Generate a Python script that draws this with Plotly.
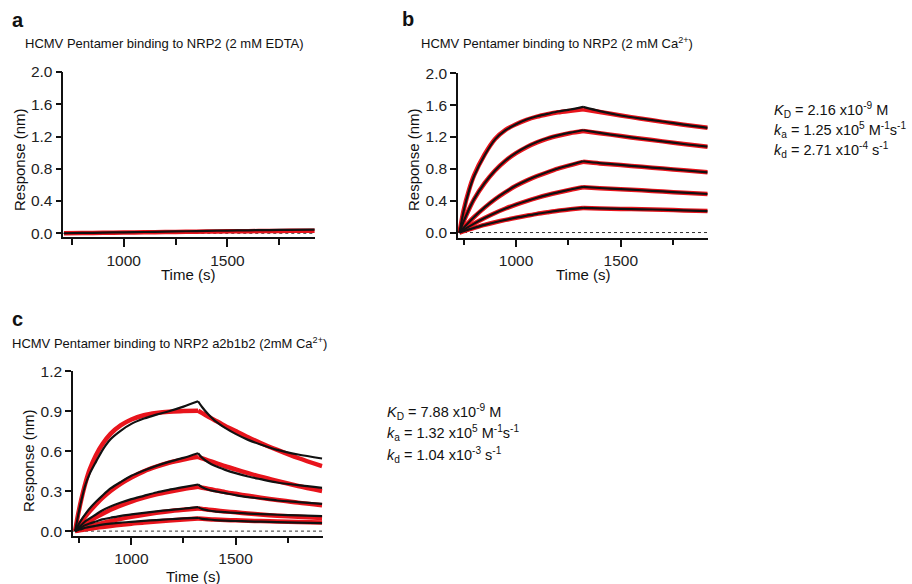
import plotly.graph_objects as go

# ---------------- data ----------------
# Panel a (2 mM EDTA)
a_time = [712, 800, 900, 1000, 1100, 1200, 1300, 1400, 1500, 1600, 1700, 1800, 1920]
a_data = [0.0, 0.004, 0.008, 0.012, 0.016, 0.020, 0.025, 0.030, 0.034, 0.037, 0.040, 0.042, 0.045]
a_fit = [0.0, 0.003, 0.006, 0.009, 0.012, 0.015, 0.018, 0.021, 0.024, 0.026, 0.028, 0.030, 0.032]

# Panel b (2 mM Ca2+)
b_time = [730, 750, 775, 800, 850, 900, 950, 1000, 1050, 1100, 1150, 1200, 1260, 1320,
          1400, 1500, 1600, 1700, 1800, 1915]
b_peak_index = 13
b_data = [
    [0, 0.27, 0.52, 0.71, 0.97, 1.17, 1.285, 1.36, 1.42, 1.46, 1.49, 1.52, 1.545, 1.578,
     1.525, 1.47, 1.43, 1.395, 1.355, 1.315],
    [0, 0.14, 0.29, 0.42, 0.62, 0.78, 0.905, 1.0, 1.077, 1.138, 1.185, 1.221, 1.255, 1.285,
     1.251, 1.212, 1.178, 1.146, 1.112, 1.078],
    [0, 0.06, 0.13, 0.195, 0.315, 0.42, 0.51, 0.59, 0.655, 0.71, 0.76, 0.805, 0.85, 0.895,
     0.871, 0.849, 0.827, 0.805, 0.782, 0.756],
    [0, 0.034, 0.074, 0.112, 0.182, 0.245, 0.301, 0.351, 0.396, 0.437, 0.473, 0.505, 0.540, 0.573,
     0.559, 0.545, 0.531, 0.516, 0.500, 0.484],
    [0, 0.017, 0.039, 0.058, 0.096, 0.129, 0.159, 0.187, 0.211, 0.235, 0.255, 0.274, 0.293, 0.31,
     0.304, 0.298, 0.292, 0.286, 0.279, 0.27],
]
b_fit = [
    [0, 0.28, 0.53, 0.72, 0.98, 1.175, 1.29, 1.36, 1.415, 1.455, 1.485, 1.51, 1.53, 1.548,
     1.515, 1.47, 1.43, 1.39, 1.355, 1.315],
    [0, 0.14, 0.29, 0.42, 0.62, 0.78, 0.903, 0.997, 1.072, 1.132, 1.18, 1.215, 1.25, 1.275,
     1.248, 1.212, 1.178, 1.145, 1.111, 1.076],
    [0, 0.06, 0.13, 0.195, 0.313, 0.418, 0.508, 0.587, 0.652, 0.708, 0.757, 0.802, 0.847, 0.888,
     0.868, 0.847, 0.825, 0.803, 0.781, 0.756],
    [0, 0.035, 0.075, 0.113, 0.183, 0.246, 0.302, 0.351, 0.395, 0.435, 0.471, 0.503, 0.538, 0.569,
     0.557, 0.543, 0.530, 0.515, 0.499, 0.484],
    [0, 0.017, 0.039, 0.058, 0.096, 0.129, 0.159, 0.186, 0.21, 0.234, 0.254, 0.273, 0.291, 0.308,
     0.303, 0.297, 0.291, 0.285, 0.278, 0.27],
]

# Panel c (NRP2 a2b1b2, 2 mM Ca2+)
c_time = [730, 745, 760, 780, 800, 830, 860, 900, 950, 1000, 1060, 1120, 1180, 1250, 1320,
          1340, 1370, 1400, 1450, 1500, 1560, 1620, 1700, 1800, 1915]
c_peak_index = 14
c_data = [
    [0, 0.12, 0.23, 0.35, 0.43, 0.52, 0.605, 0.69, 0.755, 0.805, 0.845, 0.875, 0.90, 0.935, 0.975,
     0.93, 0.875, 0.83, 0.775, 0.73, 0.685, 0.65, 0.61, 0.575, 0.545],
    [0, 0.045, 0.085, 0.13, 0.17, 0.22, 0.265, 0.32, 0.37, 0.415, 0.455, 0.49, 0.52, 0.55, 0.585,
     0.55, 0.515, 0.49, 0.46, 0.435, 0.41, 0.39, 0.365, 0.345, 0.325],
    [0, 0.025, 0.045, 0.075, 0.095, 0.125, 0.155, 0.185, 0.215, 0.24, 0.265, 0.29, 0.31, 0.33, 0.35,
     0.33, 0.31, 0.30, 0.285, 0.27, 0.255, 0.245, 0.23, 0.218, 0.205],
    [0, 0.015, 0.028, 0.045, 0.057, 0.072, 0.088, 0.10, 0.115, 0.125, 0.137, 0.148, 0.158, 0.168, 0.18,
     0.165, 0.155, 0.148, 0.142, 0.137, 0.132, 0.128, 0.123, 0.118, 0.113],
    [0, 0.008, 0.015, 0.025, 0.032, 0.04, 0.048, 0.056, 0.064, 0.07, 0.077, 0.083, 0.089, 0.095, 0.10,
     0.092, 0.087, 0.083, 0.079, 0.076, 0.073, 0.071, 0.068, 0.064, 0.06],
]
c_fit = [
    [0, 0.128, 0.239, 0.363, 0.462, 0.57, 0.65, 0.73, 0.795, 0.838, 0.870, 0.887, 0.897, 0.901, 0.904,
     0.886, 0.859, 0.833, 0.790, 0.751, 0.705, 0.662, 0.610, 0.549, 0.488],
    [0, 0.035, 0.068, 0.110, 0.148, 0.200, 0.247, 0.301, 0.357, 0.403, 0.449, 0.484, 0.513, 0.538, 0.558,
     0.546, 0.530, 0.514, 0.487, 0.463, 0.435, 0.408, 0.376, 0.339, 0.301],
    [0, 0.018, 0.034, 0.056, 0.076, 0.104, 0.129, 0.160, 0.193, 0.222, 0.251, 0.276, 0.296, 0.316, 0.332,
     0.326, 0.317, 0.308, 0.293, 0.280, 0.265, 0.251, 0.234, 0.214, 0.195],
    [0, 0.008, 0.016, 0.025, 0.035, 0.048, 0.060, 0.075, 0.092, 0.107, 0.123, 0.137, 0.149, 0.160, 0.170,
     0.167, 0.161, 0.156, 0.148, 0.141, 0.132, 0.124, 0.116, 0.107, 0.098],
    [0, 0.004, 0.008, 0.013, 0.018, 0.025, 0.031, 0.039, 0.048, 0.056, 0.065, 0.072, 0.079, 0.087, 0.094,
     0.092, 0.089, 0.087, 0.084, 0.081, 0.078, 0.075, 0.072, 0.068, 0.065],
]

panel_titles = [
    "HCMV Pentamer binding to NRP2 (2 mM EDTA)",
    "HCMV Pentamer binding to NRP2 (2 mM Ca<sup>2+</sup>)",
    "HCMV Pentamer binding to NRP2 a2b1b2 (2mM Ca<sup>2+</sup>)",
]
panel_letters = ["a", "b", "c"]
b_constants = [
    "<i>K</i><sub>D</sub> = 2.16 x10<sup>-9</sup> M",
    "<i>k</i><sub>a</sub> = 1.25 x10<sup>5</sup> M<sup>-1</sup>s<sup>-1</sup>",
    "<i>k</i><sub>d</sub> = 2.71 x10<sup>-4</sup> s<sup>-1</sup>",
]
c_constants = [
    "<i>K</i><sub>D</sub> = 7.88 x10<sup>-9</sup> M",
    "<i>k</i><sub>a</sub> = 1.32 x10<sup>5</sup> M<sup>-1</sup>s<sup>-1</sup>",
    "<i>k</i><sub>d</sub> = 1.04 x10<sup>-3</sup> s<sup>-1</sup>",
]
ab_yticks = [0.0, 0.4, 0.8, 1.2, 1.6, 2.0]
c_yticks = [0.0, 0.3, 0.6, 0.9, 1.2]
x_major = [1000, 1500]
x_minor = [750, 1250, 1750]

# ---------------- figure ----------------
W, H = 912, 584
FONT = "Arial, Liberation Sans, Helvetica, sans-serif"
RED = "rgb(232,20,28)"
BLACK = "#111111"

fig = go.Figure()


def add_curve(t, v, k, xa, ya, color, width):
    segs = [(t, v)] if k is None else [(t[:k + 1], v[:k + 1]), (t[k:], v[k:])]
    for xs, ys in segs:
        fig.add_trace(go.Scatter(x=xs, y=ys, mode="lines", xaxis=xa, yaxis=ya,
                                 line=dict(color=color, width=width, shape="spline", smoothing=0.8),
                                 showlegend=False, hoverinfo="skip"))


# panel a
add_curve(a_time, a_fit, None, "x", "y", RED, 4.5)
add_curve(a_time, a_data, None, "x", "y", BLACK, 2.2)
# panel b
for f in b_fit:
    add_curve(b_time, f, b_peak_index, "x2", "y2", RED, 4.5)
for d in b_data:
    add_curve(b_time, d, b_peak_index, "x2", "y2", BLACK, 2.2)
# panel c
for f in c_fit:
    add_curve(c_time, f, c_peak_index, "x3", "y3", RED, 4.5)
for d in c_data:
    add_curve(c_time, d, c_peak_index, "x3", "y3", BLACK, 2.2)


def px_x(p):
    return p / W


def px_y(p):
    return 1 - p / H


tickfont = dict(family=FONT, size=15.5, color="#222")


def xaxis_cfg(x0, x1, rng):
    return dict(domain=[px_x(x0), px_x(x1)], range=rng, showline=True, linecolor=BLACK,
                linewidth=1.5, ticks="outside", ticklen=8, tickwidth=1.5, tickcolor=BLACK,
                tickmode="array", tickvals=x_major, ticktext=[str(v) for v in x_major],
                tickfont=tickfont, showgrid=False, zeroline=False, fixedrange=True,
                automargin=False,
                minor=dict(tickmode="array", tickvals=x_minor, ticks="outside", ticklen=6,
                           tickwidth=1.5, tickcolor=BLACK, showgrid=False))


def yaxis_cfg(y0, y1, rng, ticks, anchor):
    return dict(domain=[px_y(y1), px_y(y0)], range=rng, showline=True, linecolor=BLACK,
                linewidth=1.5, ticks="outside", ticklen=6, tickwidth=1.5, tickcolor=BLACK,
                tickmode="array", tickvals=ticks, ticktext=[f"{v:.1f}" for v in ticks],
                tickfont=tickfont, showgrid=False, zeroline=False, anchor=anchor, fixedrange=True,
                automargin=False)


fig.update_layout(
    width=W, height=H, margin=dict(l=0, r=0, t=0, b=0, pad=0, autoexpand=False),
    paper_bgcolor="white", plot_bgcolor="white", showlegend=False,
    font=dict(family=FONT, size=13, color="#222"),
    xaxis=dict(xaxis_cfg(63.3, 315, [709, 1922]), anchor="y"),
    yaxis=yaxis_cfg(72, 237.3, [-0.05, 2.0], ab_yticks, "x"),
    xaxis2=dict(xaxis_cfg(458, 707.7, [723, 1915]), anchor="y2"),
    yaxis2=yaxis_cfg(73.3, 237.7, [-0.065, 2.0], ab_yticks, "x2"),
    xaxis3=dict(xaxis_cfg(73, 322.7, [720, 1918]), anchor="y3"),
    yaxis3=yaxis_cfg(371.3, 535.5, [-0.033, 1.2], c_yticks, "x3"),
)

# dotted zero lines
for xr, yr in [("x", "y"), ("x2", "y2"), ("x3", "y3")]:
    fig.add_shape(type="line", xref=f"{xr} domain", yref=yr, x0=0, x1=1, y0=0, y1=0,
                  line=dict(color="#333", width=1, dash="dot"), layer="below")

ann = []


def text(x, y, s, size=13, xanchor="left", yanchor="middle", angle=0, bold=False):
    ann.append(dict(x=px_x(x), y=px_y(y), xref="paper", yref="paper", text=f"<b>{s}</b>" if bold else s,
                    showarrow=False, xanchor=xanchor, yanchor=yanchor, textangle=angle,
                    font=dict(family=FONT, size=size, color="#111")))


# panel letters
text(10, 20, panel_letters[0], size=20, bold=True)
text(400, 19, panel_letters[1], size=20, bold=True)
text(10, 319, panel_letters[2], size=20, bold=True)
# titles
text(23, 43, panel_titles[0], size=13)
text(419, 43, panel_titles[1], size=13)
text(10, 343, panel_titles[2], size=13)
# axis titles
text(19, 160, "Response (nm)", size=15, xanchor="center", angle=-90)
text(413, 160, "Response (nm)", size=15, xanchor="center", angle=-90)
text(28, 461, "Response (nm)", size=15, xanchor="center", angle=-90)
text(188, 274, "Time (s)", size=15, xanchor="center")
text(583, 274, "Time (s)", size=15, xanchor="center")
text(193, 576, "Time (s)", size=15, xanchor="center")
# kinetic constants
for i, s in enumerate(b_constants):
    text(772, 110 + 20 * i, s, size=14.5)
for i, s in enumerate(c_constants):
    text(385, 412 + 21.3 * i, s, size=14.5)

fig.update_layout(annotations=ann)
fig.write_html("out.html", config={"displayModeBar": False},
               post_script="document.body.style.margin='0';")
